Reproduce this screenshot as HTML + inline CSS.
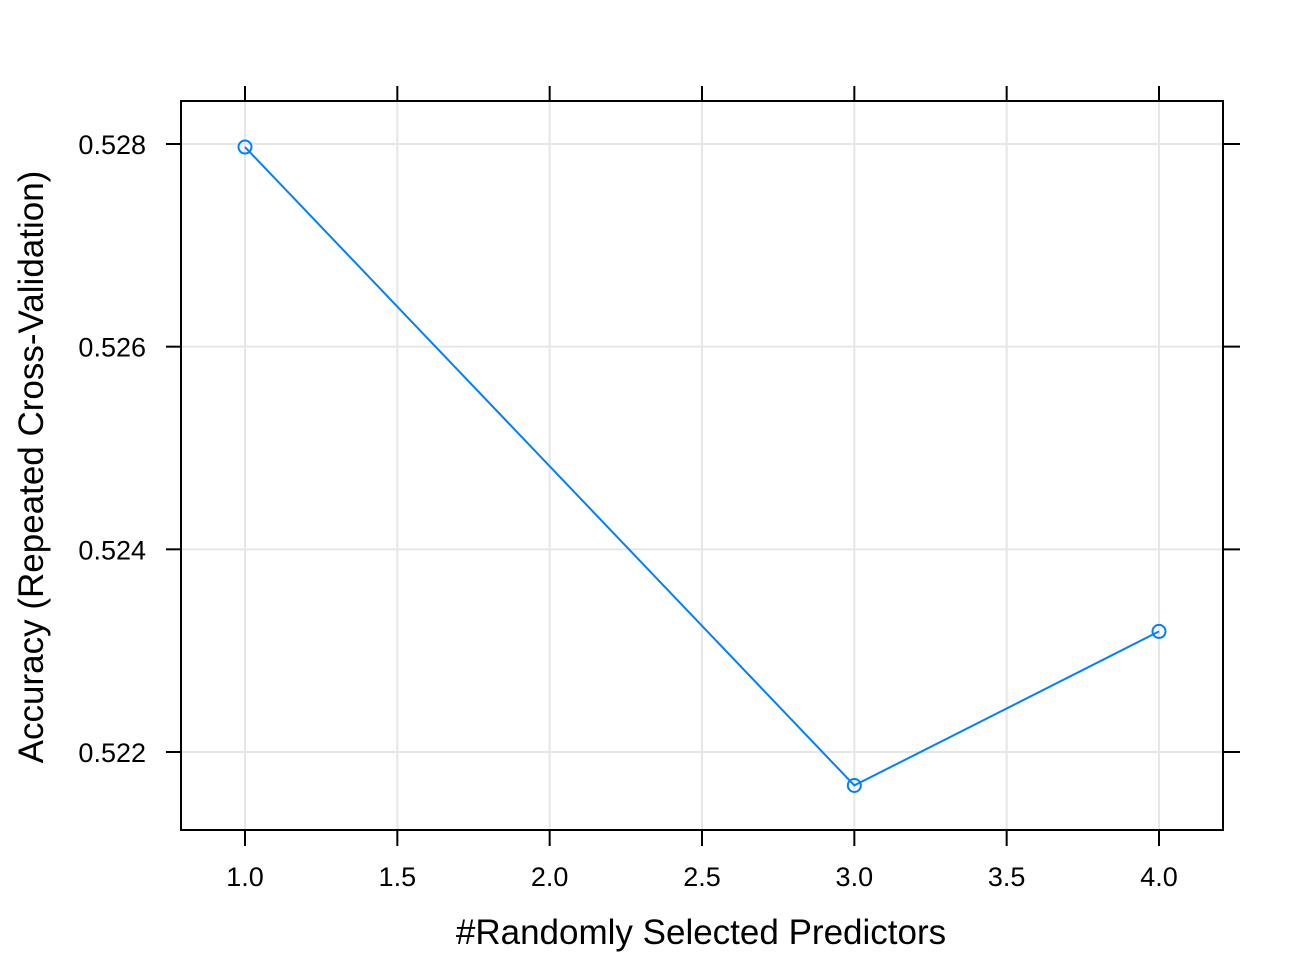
<!DOCTYPE html>
<html><head><meta charset="utf-8"><style>
html,body{margin:0;padding:0;background:#fff;}
svg{display:block;font-family:"Liberation Sans",Arial,sans-serif;}
</style></head><body>
<svg id="chart" width="1309" height="979" viewBox="0 0 1309 979" xmlns="http://www.w3.org/2000/svg">
<g id="grid"></g>
<g id="axes"></g>
<g id="series"></g>
<text x="701" y="944" font-size="35" text-anchor="middle" fill="#000">#Randomly Selected Predictors</text>
<text transform="translate(43,467) rotate(-90)" font-size="35" text-anchor="middle" fill="#000">Accuracy (Repeated Cross-Validation)</text>
</svg>
<script>
const predictors = [1, 3, 4];
const accuracy = [0.52797, 0.52167, 0.52319];
const xTicks = [1.0, 1.5, 2.0, 2.5, 3.0, 3.5, 4.0];
const xTickLabels = ["1.0","1.5","2.0","2.5","3.0","3.5","4.0"];
const yTicks = [0.522, 0.524, 0.526, 0.528];
const yTickLabels = ["0.522","0.524","0.526","0.528"];

const L=181,R=1223,T=101,B=830;
function sx(v){return 245+(v-1)*(1159-245)/3;}
function sy(v){return 752-(v-0.522)*(752-144)/0.006;}
const NS="http://www.w3.org/2000/svg";
function mk(tag,attrs,parent){const e=document.createElementNS(NS,tag);for(const k in attrs)e.setAttribute(k,attrs[k]);parent.appendChild(e);return e;}
const grid=document.getElementById('grid'),axes=document.getElementById('axes'),series=document.getElementById('series');
xTicks.forEach((t,i)=>{
  const x=sx(t);
  const g=mk('line',{x1:x,x2:x,y1:T,y2:B,stroke:'#e6e6e6','stroke-width':2},grid);
  
  
  const a=mk('line',{x1:x,x2:x,y1:T-15,y2:T,stroke:'#000','stroke-width':2},axes);
  
  
  const b=mk('line',{x1:x,x2:x,y1:B,y2:B+16,stroke:'#000','stroke-width':2},axes);
  
  
  const tx=mk('text',{x:x,y:886,'font-size':27,'text-anchor':'middle',fill:'#000'},axes);
  tx.textContent=xTickLabels[i];
  
  
});
yTicks.forEach((t,i)=>{
  const y=sy(t);
  const g=mk('line',{x1:L,x2:R,y1:y,y2:y,stroke:'#e6e6e6','stroke-width':2},grid);
  
  
  const a=mk('line',{x1:L-15,x2:L,y1:y,y2:y,stroke:'#000','stroke-width':2},axes);
  
  
  const b=mk('line',{x1:R,x2:R+17,y1:y,y2:y,stroke:'#000','stroke-width':2},axes);
  
  
  const tx=mk('text',{x:146,y:y+10,'font-size':27,'text-anchor':'end',fill:'#000'},axes);
  tx.textContent=yTickLabels[i];
  
  
});
const frame=mk('rect',{x:L,y:T,width:R-L,height:B-T,fill:'none',stroke:'#000','stroke-width':2},axes);


const pts=predictors.map((p,i)=>sx(p)+','+sy(accuracy[i])).join(' ');
const line=mk('polyline',{points:pts,fill:'none',stroke:'#0080ff','stroke-width':2},series);


predictors.forEach((p,i)=>{
  const c=mk('circle',{cx:sx(p),cy:sy(accuracy[i]),r:6.5,fill:'none',stroke:'#0080ff','stroke-width':2},series);
  
  
});
</script>
</body></html>
